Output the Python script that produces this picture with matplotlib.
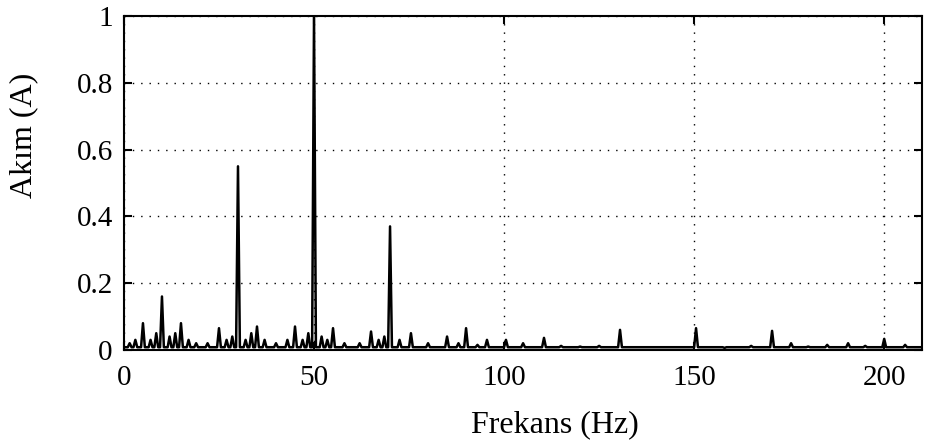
import matplotlib.pyplot as plt
import numpy as np

plt.rcParams["font.family"] = ["Liberation Serif", "DejaVu Serif"]

# spectral lines: frequency (Hz) and amplitude (A)
peak_freqs = [1.5, 3, 5, 7, 8.5, 10, 12, 13.5, 15, 17, 19, 22, 25, 27, 28.5, 30, 32, 33.5,
              35, 37, 40, 43, 45, 47, 48.5, 50, 52, 53.5, 55, 58, 62, 65, 67, 68.5, 70, 72.5,
              75.5, 80, 85, 88, 90, 93, 95.5, 100.5, 105, 110.5, 115, 120, 125, 130.5,
              140, 145, 150.5, 158, 165, 170.5, 175.5, 180, 185, 190.5, 195, 200, 205.5]
peak_amps = [0.02, 0.03, 0.08, 0.03, 0.05, 0.16, 0.04, 0.05, 0.08, 0.03, 0.02, 0.02, 0.065,
             0.03, 0.04, 0.55, 0.03, 0.05, 0.07, 0.03, 0.02, 0.03, 0.07, 0.03, 0.05, 1.0,
             0.04, 0.03, 0.065, 0.02, 0.02, 0.055, 0.03, 0.04, 0.37, 0.03, 0.05, 0.02, 0.04,
             0.02, 0.065, 0.015, 0.03, 0.03, 0.02, 0.036, 0.012, 0.01, 0.012, 0.06,
             0.008, 0.008, 0.065, 0.006, 0.012, 0.057, 0.02, 0.01, 0.015, 0.02, 0.012, 0.033, 0.015]
floor = 0.008
half_width = 0.5

freq = [0.0]
amp = [floor]
for f, a in zip(peak_freqs, peak_amps):
    freq += [f - half_width, f, f + half_width]
    amp += [floor, a, floor]
freq.append(210.0)
amp.append(floor)

fig = plt.figure(figsize=(9.25, 4.48), dpi=100)
ax = fig.add_axes([0.134, 0.219, 0.863, 0.745])

ax.plot(freq, amp, color="black", lw=1.8)

ax.set_xlim(0, 210)
ax.set_ylim(0, 1)
ax.set_xticks([0, 50, 100, 150, 200])
ax.set_yticks([0, 0.2, 0.4, 0.6, 0.8, 1])
ax.set_yticklabels(["0", "0.2", "0.4", "0.6", "0.8", "1"])
ax.grid(True, color="black", linestyle=(0, (1, 5)), lw=1.0)
ax.tick_params(direction="in", length=6, width=1.5, labelsize=21, top=True, right=True)
ax.tick_params(axis="x", pad=11)
ax.tick_params(axis="y", pad=8)
for s in ax.spines.values():
    s.set_linewidth(1.5)

ax.set_xlabel("Frekans (Hz)", fontsize=23, va="center")
ax.set_ylabel("Akım (A)", fontsize=23, va="center")
ax.yaxis.set_label_coords(-0.125, 0.644)
ax.xaxis.set_label_coords(0.54, -0.225)

fig.savefig("out.png", dpi=100)
